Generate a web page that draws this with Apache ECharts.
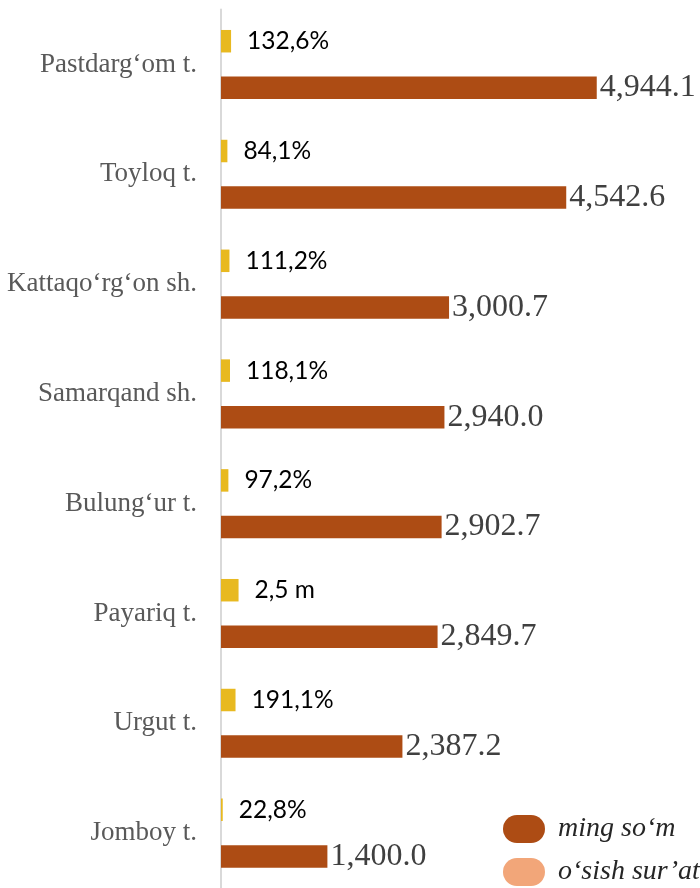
<!DOCTYPE html>
<html>
<head>
<meta charset="utf-8">
<script src="https://cdn.jsdelivr.net/npm/echarts@6/dist/echarts.min.js"></script>
<style>
  html, body { margin: 0; padding: 0; background: #fff; }
  #chart { width: 700px; height: 888px; }
</style>
</head>
<body>
<div id="chart"></div>
<script>
  // districts, top to bottom
  var categories = ['Pastdarg‘om t.', 'Toyloq t.', 'Kattaqo‘rg‘on sh.', 'Samarqand sh.', 'Bulung‘ur t.', 'Payariq t.', 'Urgut t.', 'Jomboy t.'];
  // ming so'm
  var amounts = [4944.1, 4542.6, 3000.7, 2940.0, 2902.7, 2849.7, 2387.2, 1400.0];
  // o'sish sur'ati (%), drawn on the same axis
  var growth = [132.6, 84.1, 111.2, 118.1, 97.2, 231, 191.1, 22.8];
  var growthLabels = ['132,6%', '84,1%', '111,2%', '118,1%', '97,2%', '2,5 m', '191,1%', '22,8%'];

  var seriesNames = ['ming so‘m', 'o‘sish sur’ati'];

  function fmt(v) {
    return v.toLocaleString('en-US', { minimumFractionDigits: 1, maximumFractionDigits: 1 });
  }

  var pill = 'path://M14,0 L28,0 A14,14 0 0 1 28,28 L14,28 A14,14 0 0 1 14,0 Z';

  var chart = echarts.init(document.getElementById('chart'));
  chart.setOption({
    animation: false,
    grid: { left: 221, top: 9.6, width: 456, height: 885.7 },
    legend: {
      orient: 'vertical',
      left: 503,
      top: 815,
      padding: 0,
      itemWidth: 42,
      itemHeight: 28,
      itemGap: 15,
      icon: pill,
      textStyle: { fontFamily: 'Liberation Serif', fontStyle: 'italic', fontSize: 28, color: '#262626', padding: [0, 0, 0, 8] },
      data: [
        { name: seriesNames[0] },
        { name: seriesNames[1], itemStyle: { color: '#F2A679' } }
      ]
    },
    xAxis: {
      type: 'value',
      min: 0,
      max: 6000,
      show: false
    },
    yAxis: {
      type: 'category',
      inverse: true,
      data: categories,
      axisTick: { show: false },
      axisLine: { lineStyle: { color: '#D9D9D9', width: 2 } },
      axisLabel: { margin: 24, fontFamily: 'Liberation Serif', fontSize: 27, color: '#595959' }
    },
    series: [
      {
        name: seriesNames[1],
        type: 'bar',
        barWidth: 22.5,
        barGap: '107%',
        data: growth,
        itemStyle: { color: '#E8B920' },
        label: {
          show: true,
          position: 'right',
          distance: 16,
          fontFamily: 'Lato',
          fontSize: 24.5,
          color: '#000',
          formatter: function (p) { return growthLabels[p.dataIndex]; }
        }
      },
      {
        name: seriesNames[0],
        type: 'bar',
        barWidth: 22.5,
        barGap: '107%',
        data: amounts,
        itemStyle: { color: '#AD4C14' },
        label: {
          show: true,
          position: 'right',
          distance: 3,
          fontFamily: 'Liberation Serif',
          fontSize: 32,
          color: '#404040',
          formatter: function (p) { return fmt(p.value); }
        }
      }
    ]
  });
</script>
</body>
</html>
